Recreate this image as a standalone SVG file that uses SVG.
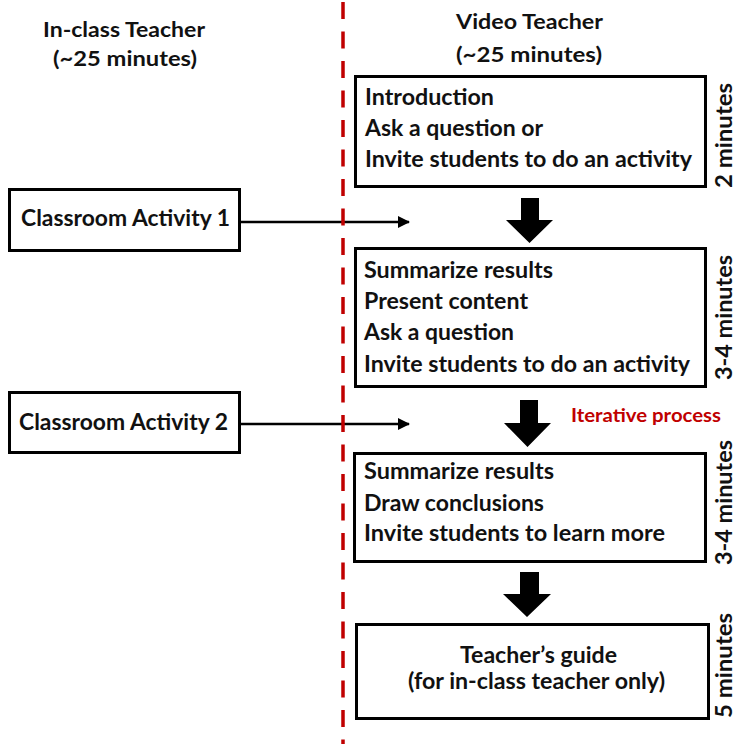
<svg xmlns="http://www.w3.org/2000/svg" width="737" height="744" viewBox="0 0 737 744">
<defs>
<style>
text{font-family:Lato,"Open Sans","Liberation Sans",sans-serif;font-weight:bold;fill:#111;}
.b{font-size:23px;}
.h{font-size:20px;}
.red{font-size:18.5px;fill:#C00000;}
.c{text-anchor:middle;}
.box{fill:#fff;stroke:#000;stroke-width:3;}
.conn{stroke:#000;stroke-width:2.5;fill:none;}
.blk{fill:#000;}
</style>
<marker id="ah" viewBox="0 0 12 12" refX="11" refY="6" markerWidth="12" markerHeight="12" markerUnits="userSpaceOnUse" orient="auto">
<path d="M0,0 L12,6 L0,12 Z" fill="#000"/>
</marker>
</defs>
<rect width="737" height="744" fill="#fff"/>

<g id="header-left">
<text class="h c" x="124" y="37" textLength="162" lengthAdjust="spacingAndGlyphs">In-class Teacher</text>
<text class="h c" x="125" y="66" textLength="144" lengthAdjust="spacingAndGlyphs">(~25 minutes)</text>
</g>
<g id="header-right">
<text class="h c" x="529.5" y="29" textLength="147" lengthAdjust="spacingAndGlyphs">Video Teacher</text>
<text class="h c" x="529" y="62" textLength="146" lengthAdjust="spacingAndGlyphs">(~25 minutes)</text>
</g>

<g id="connectors">
<line class="conn" x1="240" y1="222" x2="409" y2="222" marker-end="url(#ah)"/>
<line class="conn" x1="240" y1="424" x2="409" y2="424" marker-end="url(#ah)"/>
<polygon class="blk" points="521,198 539,198 539,220 553,220 529.5,243 506,220 521,220"/>
<polygon class="blk" points="520,400 538,400 538,423 551,423 527.5,447 504,423 520,423"/>
<polygon class="blk" points="520,572 539,572 539,594 551,594 527,617 503,594 520,594"/>
</g>

<g id="divider">
<line x1="343" y1="2" x2="343" y2="744" stroke="#C00000" stroke-width="3.5" stroke-dasharray="17 12.5"/>
</g>

<g id="activity1">
<rect class="box" x="9.5" y="189.5" width="230" height="61"/>
<text class="b c" x="125.5" y="226" textLength="209" lengthAdjust="spacingAndGlyphs">Classroom Activity 1</text>
</g>
<g id="activity2">
<rect class="box" x="9.5" y="392.5" width="230" height="60"/>
<text class="b c" x="123.5" y="430" textLength="209" lengthAdjust="spacingAndGlyphs">Classroom Activity 2</text>
</g>

<g id="intro">
<rect class="box" x="355.5" y="76.5" width="350" height="110"/>
<text class="b" x="365" y="105" textLength="129" lengthAdjust="spacingAndGlyphs">Introduction</text>
<text class="b" x="365" y="136" textLength="178" lengthAdjust="spacingAndGlyphs">Ask a question or</text>
<text class="b" x="365" y="167" textLength="327" lengthAdjust="spacingAndGlyphs">Invite students to do an activity</text>
</g>
<g id="step2">
<rect class="box" x="355.5" y="248.5" width="350" height="138"/>
<text class="b" x="364" y="278" textLength="189" lengthAdjust="spacingAndGlyphs">Summarize results</text>
<text class="b" x="364" y="309" textLength="164" lengthAdjust="spacingAndGlyphs">Present content</text>
<text class="b" x="364" y="340" textLength="150" lengthAdjust="spacingAndGlyphs">Ask a question</text>
<text class="b" x="364" y="372" textLength="326" lengthAdjust="spacingAndGlyphs">Invite students to do an activity</text>
</g>
<g id="step3">
<rect class="box" x="354.5" y="453.5" width="351" height="108"/>
<text class="b" x="364" y="479" textLength="190" lengthAdjust="spacingAndGlyphs">Summarize results</text>
<text class="b" x="364" y="511" textLength="180" lengthAdjust="spacingAndGlyphs">Draw conclusions</text>
<text class="b" x="364" y="541" textLength="301" lengthAdjust="spacingAndGlyphs">Invite students to learn more</text>
</g>
<g id="guide">
<rect class="box" x="356.5" y="624.5" width="352" height="94"/>
<text class="b c" x="538.5" y="663" textLength="157" lengthAdjust="spacingAndGlyphs">Teacher’s guide</text>
<text class="b c" x="536.5" y="689" textLength="257" lengthAdjust="spacingAndGlyphs">(for in-class teacher only)</text>
</g>

<g id="iterative">
<text class="red" x="571" y="422" textLength="150" lengthAdjust="spacingAndGlyphs">Iterative process</text>
</g>

<g id="durations">
<text class="b c" transform="translate(732,135.5) rotate(-90)" textLength="105" lengthAdjust="spacingAndGlyphs">2 minutes</text>
<text class="b c" transform="translate(732,317.5) rotate(-90)" textLength="125" lengthAdjust="spacingAndGlyphs">3-4 minutes</text>
<text class="b c" transform="translate(732,502.5) rotate(-90)" textLength="125" lengthAdjust="spacingAndGlyphs">3-4 minutes</text>
<text class="b c" transform="translate(732,665.5) rotate(-90)" textLength="105" lengthAdjust="spacingAndGlyphs">5 minutes</text>
</g>
</svg>
